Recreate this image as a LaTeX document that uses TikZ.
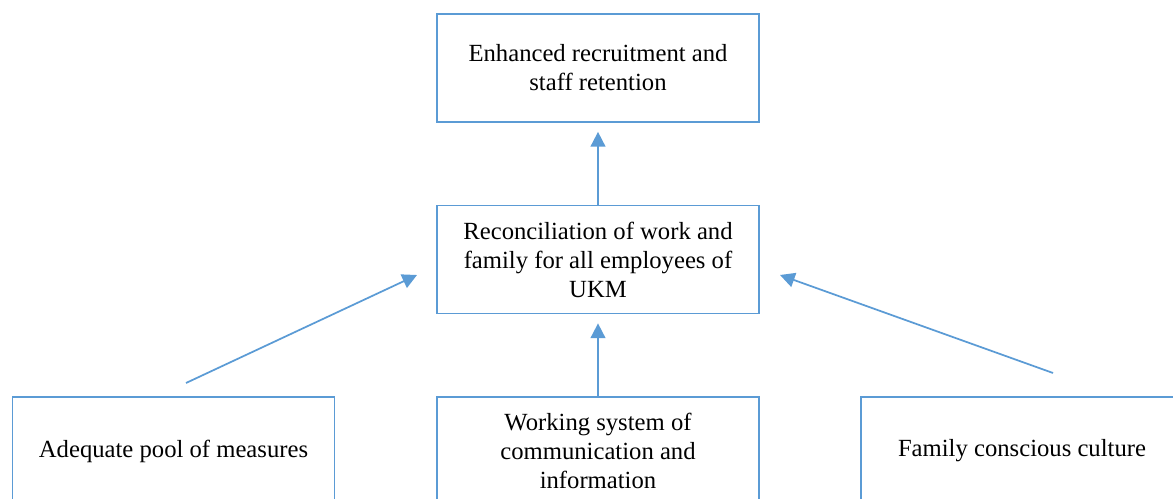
\documentclass[tikz,border=0pt]{standalone}
\usepackage{fontspec}
\setmainfont{Liberation Serif}
\usepackage{tikz}
\usetikzlibrary{arrows.meta}
\definecolor{boxblue}{HTML}{5B9BD5}
\tikzstyle{Box}=[rectangle, minimum width=241.5pt, minimum height=81pt, align=center, draw=boxblue, line width=1.3pt, font=\fontsize{18.5}{21.75}\selectfont]
\tikzstyle{Link}=[draw=boxblue, line width=1.3pt, -{Triangle[length=11pt, width=11pt]}, fill=boxblue]

\begin{document}
\begin{tikzpicture}[x=0.75pt, y=-0.75pt]
    \useasboundingbox (0,0) rectangle (1173,499);
    \path
    (598,68) node[Box] (goal) {Enhanced recruitment and\\staff retention}
    (598,259.5) node[Box] (balance) {Reconciliation of work and\\family for all employees of\\UKM};

    \path
    (173.5,451) node[Box] (pool) {Adequate pool of measures}
    (598,451) node[Box] (comm) {Working system of\\communication and\\information}
    (1022,451) node[Box] (culture) {Family conscious culture};

    \coordinate (poolout) at (186,383);
    \coordinate (poolin) at (417,275);
    \coordinate (cultout) at (1053,373);
    \coordinate (cultin) at (780,275);

    \draw[Link] (balance.north) -- ([yshift=-6.75pt]goal.south);
    \draw[Link] (comm.north) -- ([yshift=-6.75pt]balance.south);
    \draw[Link] (poolout) -- (poolin);
    \draw[Link] (cultout) -- (cultin);
\end{tikzpicture}
\end{document}
